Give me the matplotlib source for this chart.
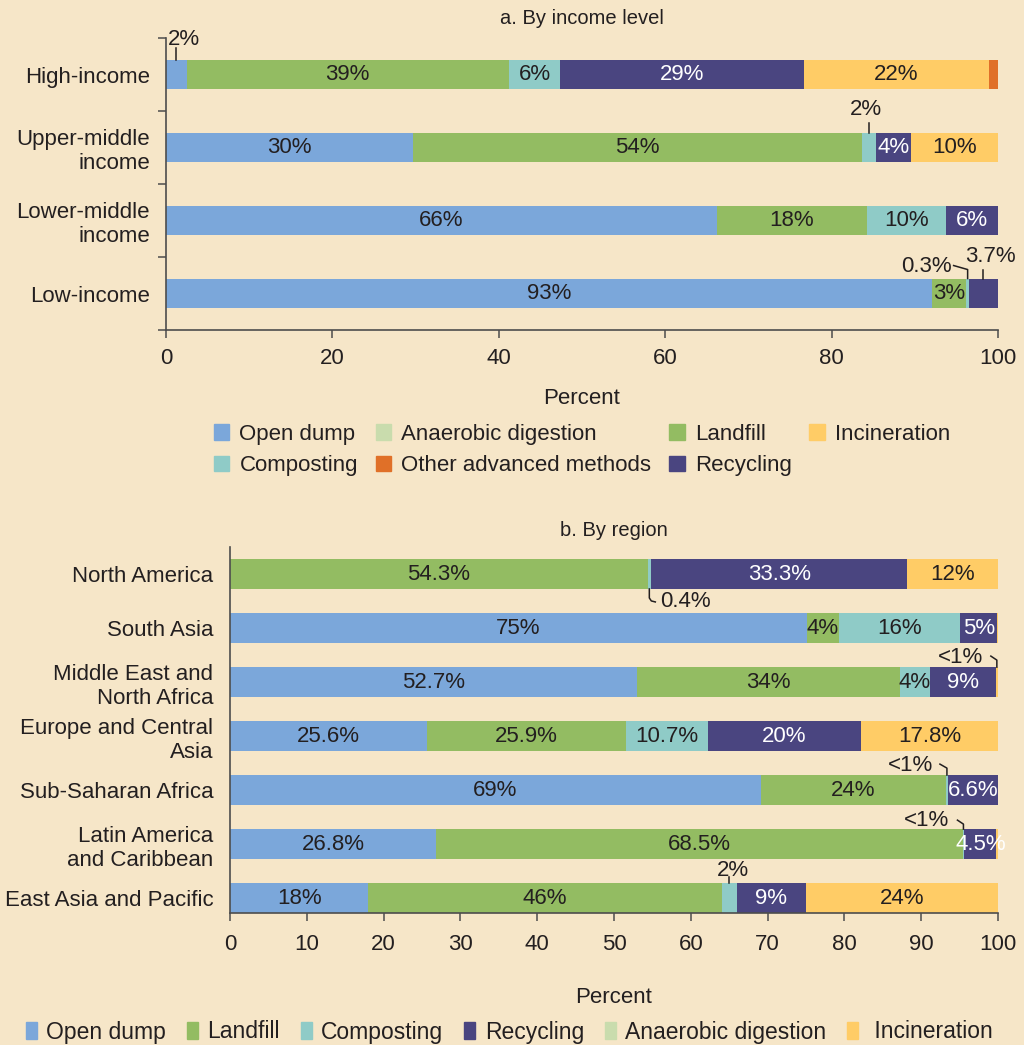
import numpy as np
import matplotlib
matplotlib.use('Agg')
import matplotlib.pyplot as plt
from matplotlib.patches import Patch
from matplotlib.lines import Line2D
from matplotlib.transforms import IdentityTransform

plt.rcParams['font.family'] = ['Liberation Sans', 'DejaVu Sans']

BG = '#F6E6C8'
TXT = '#231F20'
AXC = '#4D4D4D'
FS = 16

COLORS = {
    'Open dump': '#7BA7DA',
    'Landfill': '#93BC62',
    'Composting': '#8FCBC7',
    'Anaerobic digestion': '#C9DCAD',
    'Recycling': '#4A4580',
    'Incineration': '#FFCC66',
    'Other advanced methods': '#E07028',
}

# a. By income level (percent of waste)
income_levels = ['High-income', 'Upper-middle\nincome', 'Lower-middle\nincome', 'Low-income']
open_dump_a = [2.5, 29.7, 66.2, 92.1]
landfill_a = [38.7, 54.0, 18.0, 4.1]
composting_a = [6.2, 1.6, 9.6, 0.3]
anaerobic_a = [0, 0, 0, 0]
recycling_a = [29.3, 4.3, 6.2, 3.5]
incineration_a = [22.2, 10.4, 0, 0]
other_a = [1.1, 0, 0, 0]

open_dump_a_lbl = ['', '30%', '66%', '93%']
landfill_a_lbl = ['39%', '54%', '18%', '3%']
composting_a_lbl = ['6%', '', '10%', '']
recycling_a_lbl = ['29%', '4%', '6%', '']
incineration_a_lbl = ['22%', '10%', '', '']

# b. By region (percent of waste)
regions = ['North America', 'South Asia', 'Middle East and\nNorth Africa',
           'Europe and Central\nAsia', 'Sub-Saharan Africa',
           'Latin America\nand Caribbean', 'East Asia and Pacific']
open_dump_b = [0, 75.1, 53.0, 25.6, 69.1, 26.8, 18.0]
landfill_b = [54.4, 4.2, 34.2, 25.9, 24.1, 68.6, 46.0]
composting_b = [0.4, 15.8, 3.9, 10.7, 0.3, 0.2, 2.0]
anaerobic_b = [0, 0, 0, 0, 0, 0, 0]
recycling_b = [33.4, 4.8, 8.6, 20.0, 6.5, 4.2, 9.0]
incineration_b = [11.8, 0.1, 0.3, 17.8, 0, 0.2, 25.0]

open_dump_b_lbl = ['', '75%', '52.7%', '25.6%', '69%', '26.8%', '18%']
landfill_b_lbl = ['54.3%', '4%', '34%', '25.9%', '24%', '68.5%', '46%']
composting_b_lbl = ['', '16%', '4%', '10.7%', '', '', '']
recycling_b_lbl = ['33.3%', '5%', '9%', '20%', '6.6%', '4.5%', '9%']
incineration_b_lbl = ['12%', '', '', '17.8%', '', '', '24%']


def stacked(ax, cats, series, bar_h):
    y = np.arange(len(cats))
    left = np.zeros(len(cats))
    centers = {}
    for name, vals, labels in series:
        vals = np.array(vals, dtype=float)
        ax.barh(y, vals, left=left, height=bar_h, color=COLORS[name], linewidth=0)
        centers[name] = left + vals / 2
        for i, lab in enumerate(labels or []):
            if lab:
                c = 'white' if name == 'Recycling' else TXT
                ax.text(left[i] + vals[i] / 2, y[i], lab, ha='center', va='center',
                        color=c, fontsize=FS)
        left = left + vals
    return centers


def callout(ax, x, y, text, dxy, path, ha='center'):
    # path / dxy in pixel offsets (y up) from the bar edge point
    base = ax.transData.transform((x, y))
    pts = base + np.array(path, dtype=float)
    ax.add_line(Line2D(pts[:, 0], pts[:, 1], transform=IdentityTransform(),
                       color=TXT, lw=1.1, clip_on=False))
    ax.annotate(text, xy=(x, y), xytext=dxy, textcoords='offset pixels',
                ha=ha, va='center', fontsize=FS, color=TXT, annotation_clip=False)


def style_axes(ax, cats, ylim, xticks):
    ax.set_facecolor(BG)
    for s in ['top', 'right']:
        ax.spines[s].set_visible(False)
    for s in ['left', 'bottom']:
        ax.spines[s].set_color(AXC)
        ax.spines[s].set_linewidth(1.2)
    ax.set_xlim(0, 100)
    ax.set_ylim(*ylim)
    ax.set_yticks(np.arange(len(cats)))
    ax.set_yticklabels(cats, fontsize=FS, color=TXT)
    ax.set_xticks(xticks)
    ax.tick_params(axis='x', labelsize=FS, labelcolor=TXT, length=6, width=1.1,
                   color=AXC, pad=7)
    ax.set_xlabel('Percent', fontsize=FS, color=TXT)


fig = plt.figure(figsize=(10.24, 10.45), dpi=100)
fig.patch.set_facecolor(BG)

# ---- panel a ----
ax1 = fig.add_axes([166 / 1024, 1 - 330 / 1045, 832 / 1024, 292 / 1045])
h1 = 0.41
series_a = [
    ('Open dump', open_dump_a, open_dump_a_lbl),
    ('Landfill', landfill_a, landfill_a_lbl),
    ('Composting', composting_a, composting_a_lbl),
    ('Anaerobic digestion', anaerobic_a, None),
    ('Recycling', recycling_a, recycling_a_lbl),
    ('Incineration', incineration_a, incineration_a_lbl),
    ('Other advanced methods', other_a, None),
]
cen_a = stacked(ax1, income_levels, series_a, h1)
style_axes(ax1, income_levels, (3.5, -0.5), np.arange(0, 101, 20))
ax1.set_yticks(np.arange(-0.5, 4, 1), minor=True)
ax1.tick_params(axis='y', which='major', length=0, pad=11.5)
ax1.tick_params(axis='y', which='minor', length=6, width=1.1, color=AXC)
ax1.xaxis.labelpad = 14
ax1.set_title('a. By income level', fontsize=14.5, color=TXT, pad=10)

top = lambda i, h: i - h / 2
callout(ax1, cen_a['Open dump'][0], top(0, h1), '2%', (8, 20), [(0, 0), (0, 12)])
callout(ax1, cen_a['Composting'][1], top(1, h1), '2%', (-3, 23), [(0, 0), (0, 10)])
callout(ax1, cen_a['Composting'][3], top(3, h1), '0.3%', (-16, 12),
        [(0, 0), (0, 9), (-14, 13)], ha='right')
callout(ax1, cen_a['Recycling'][3], top(3, h1), '3.7%', (7, 22), [(0, 0), (0, 9)])

# ---- panel b ----
h2 = 0.553
ax2 = fig.add_axes([230 / 1024, 1 - 913 / 1045, 768 / 1024, 366 / 1045])
series_b = [
    ('Open dump', open_dump_b, open_dump_b_lbl),
    ('Landfill', landfill_b, landfill_b_lbl),
    ('Composting', composting_b, composting_b_lbl),
    ('Anaerobic digestion', anaerobic_b, None),
    ('Recycling', recycling_b, recycling_b_lbl),
    ('Incineration', incineration_b, incineration_b_lbl),
]
cen_b = stacked(ax2, regions, series_b, h2)
style_axes(ax2, regions, (6 + h2 / 2, -0.5), np.arange(0, 101, 10))
ax2.tick_params(axis='x', pad=9)
ax2.tick_params(axis='y', which='major', length=0, pad=12)
ax2.xaxis.labelpad = 23
ax2.set_title('b. By region', fontsize=14.5, color=TXT, pad=8)

bot = lambda i, h: i + h / 2
callout(ax2, cen_b['Composting'][0], bot(0, h2), '0.4%', (11, -13),
        [(0, 0), (0, -9), (2, -12), (6, -13)], ha='left')
callout(ax2, cen_b['Incineration'][2], top(2, h2), '<1%', (-14, 10),
        [(0, 0), (0, 7), (-6, 11)], ha='right')
callout(ax2, cen_b['Composting'][4], top(4, h2), '<1%', (-14, 10),
        [(0, 0), (0, 7), (-7, 11)], ha='right')
callout(ax2, cen_b['Composting'][5], top(5, h2), '<1%', (-14, 9),
        [(0, 0), (0, 5), (-6, 9)], ha='right')
callout(ax2, cen_b['Composting'][6], top(6, h2), '2%', (4, 13), [(0, 0), (0, 6)])

# ---- legends ----
order_a = ['Open dump', 'Composting', 'Anaerobic digestion', 'Other advanced methods',
           'Landfill', 'Recycling', 'Incineration']
fig.legend([Patch(color=COLORS[n]) for n in order_a], order_a, ncol=4,
           loc='center', bbox_to_anchor=(582 / 1024, 1 - 450 / 1045),
           frameon=False, fontsize=16, handlelength=0.7, handleheight=0.7,
           handletextpad=0.45, columnspacing=0.8, labelspacing=0.48, labelcolor=TXT)

order_b = ['Open dump', 'Landfill', 'Composting', 'Recycling', 'Anaerobic digestion',
           'Incineration']
fig.legend([Patch(color=COLORS[n]) for n in order_b],
           [(' ' + n if n == 'Incineration' else n) for n in order_b], ncol=6,
           loc='center', bbox_to_anchor=(509 / 1024, 1 - 1032 / 1045),
           frameon=False, fontsize=16.5, handlelength=0.5, handleheight=0.8,
           handletextpad=0.4, columnspacing=0.9, labelcolor=TXT)

fig.savefig('out.png', dpi=100, facecolor=BG)
